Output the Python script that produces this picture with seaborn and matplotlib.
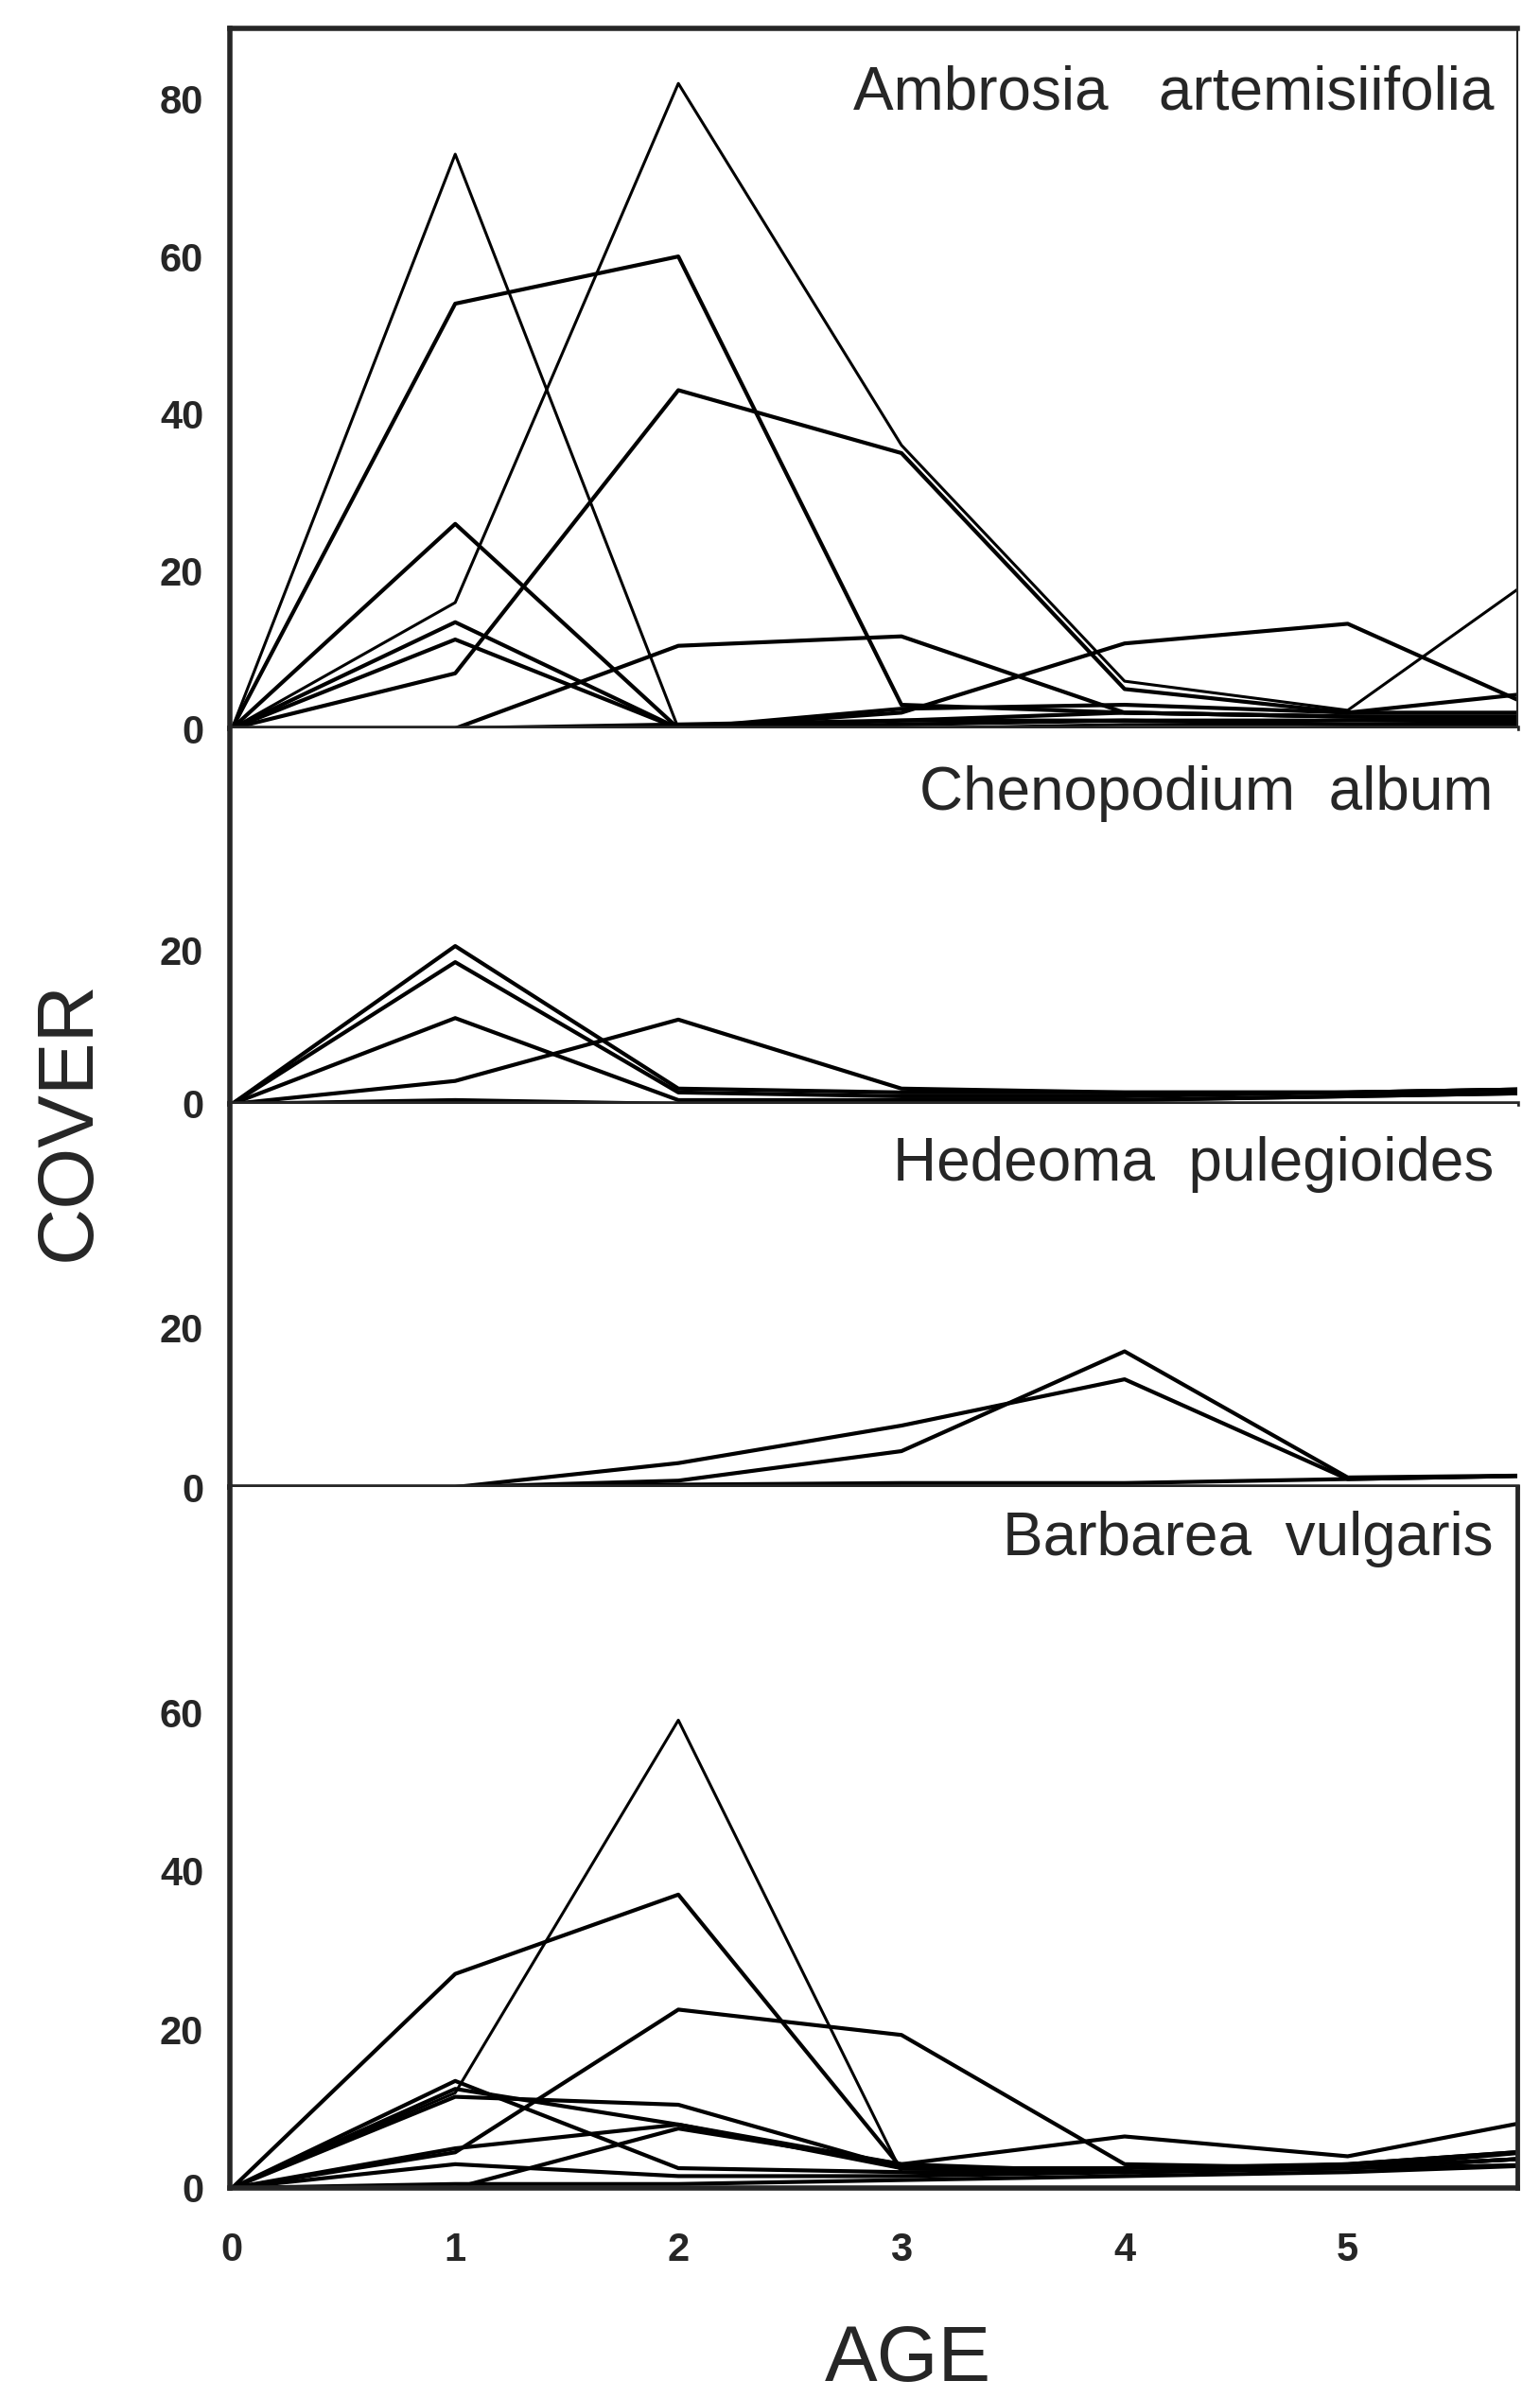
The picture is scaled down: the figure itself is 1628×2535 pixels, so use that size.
import matplotlib
matplotlib.use("Agg")
import matplotlib.pyplot as plt
import pandas as pd
import seaborn as sns

# cover of each species per site (x = age 0..6,
# the last column only sets the slope where the page cuts the lines off)
AGE = [0, 1, 2, 3, 4, 5, 6]

AMBROSIA = [
    [0, 73, 0, 0, 0.5, 0.5, 1],
    [0, 54, 60, 3, 2, 1.5, 1.5],
    [0, 16, 82, 36, 6, 2.3, 22.5],
    [0, 7, 43, 35, 5, 2, 2],
    [0, 26, 0, 0.5, 1, 1, 1],
    [0, 13.5, 0, 1, 2, 1.5, 1.5],
    [0, 11.3, 0, 2.5, 3, 2, 5],
    [0, 0, 10.5, 11.7, 2, 1.5, 1],
    [0, 0, 0, 2, 10.8, 13.3, 0.6],
    [0, 0, 0.5, 1, 1, 0.5, 0.5],
]
CHENOPODIUM = [
    [0, 20.6, 2, 1.5, 1.5, 1.5, 2],
    [0, 18.5, 1.5, 1, 1, 1.5, 2],
    [0, 11.2, 0.5, 0.5, 0.5, 1, 1.5],
    [0, 3, 11, 2, 1.5, 1.5, 2],
    [0, 0.5, 0, 0.5, 0.5, 1, 1.5],
]
HEDEOMA = [
    [0, 0, 3, 7.7, 13.5, 1, 1.5],
    [0, 0, 0.8, 4.5, 17, 1.2, 1.5],
    [0, 0, 0.3, 0.5, 0.5, 1, 1.5],
]
BARBAREA = [
    [0, 12, 59, 2, 2, 2.5, 4],
    [0, 27, 37, 2.5, 2, 2.5, 4],
    [0, 4.5, 22.5, 19.3, 3, 2.5, 4],
    [0, 13.5, 2.5, 2, 2, 2.5, 3],
    [0, 11.5, 10.5, 2.5, 2, 3, 5],
    [0, 5, 8, 3, 6.5, 4, 9.4],
    [0, 0, 7.5, 3, 2, 2.5, 5],
    [0, 3, 1.5, 1.5, 2, 2.5, 4],
    [0, 0.5, 0.5, 1, 1.5, 2, 3],
    [0, 12.5, 8, 2.5, 2.5, 3, 5],
]

SPECIES = ["Ambrosia   artemisiifolia", "Chenopodium  album",
           "Hedeoma  pulegioides", "Barbarea  vulgaris"]
SERIES = [AMBROSIA, CHENOPODIUM, HEDEOMA, BARBAREA]
Y_TOP = [89, 49, 48, 88.4]
Y_TICKS = [[0, 20, 40, 60, 80], [0, 20], [0, 20], [0, 20, 40, 60]]
X_TICKS = [0, 1, 2, 3, 4, 5]

# the tall peaks are drawn with a finer pen in the original
THIN = {(0, 0), (0, 2), (3, 0)}

rows = []
for p, (name, series) in enumerate(zip(SPECIES, SERIES)):
    for s, values in enumerate(series):
        pen = "thin" if (p, s) in THIN else "thick"
        for age, cover in zip(AGE, values):
            rows.append({"panel": name, "site": s, "age": age, "cover": cover, "pen": pen})
df = pd.DataFrame(rows)

sns.set_style("white")
plt.rcParams["font.family"] = ["Liberation Sans", "DejaVu Sans"]

# panel heights in pixels of the scan
fig, axes = plt.subplots(
    4, 1, figsize=(16.28, 25.35), dpi=100, sharex=True,
    gridspec_kw={"height_ratios": [740, 397, 405, 741], "hspace": 0},
)
fig.subplots_adjust(left=243 / 1628, right=1604 / 1628, top=1 - 30 / 2535, bottom=1 - 2313 / 2535)

title_drop = [38, 39, 34, 25]
for p, ax in enumerate(axes):
    sub = df[df["panel"] == SPECIES[p]]
    sns.lineplot(
        data=sub, x="age", y="cover", units="site", estimator=None,
        size="pen", sizes={"thin": 2.2, "thick": 3.0}, color="black",
        legend=False, ax=ax,
    )
    ax.set_xlim(-0.01, 5.76)
    ax.set_ylim(0, Y_TOP[p])
    ax.set_yticks(Y_TICKS[p])
    ax.set_xticks(X_TICKS)
    ax.set_xlabel("")
    ax.set_ylabel("")
    ax.tick_params(axis="y", direction="in", length=7, width=3, pad=20,
                   labelsize=30)
    ax.tick_params(axis="x", direction="in", length=7, width=2, pad=33,
                   labelsize=30, labelbottom=(p == 3))
    for lab in ax.get_yticklabels() + ax.get_xticklabels():
        lab.set_fontweight("bold")

    for side in ["left", "bottom"]:
        ax.spines[side].set_linewidth(4)
    ax.spines["top"].set_visible(p == 0)
    ax.spines["top"].set_linewidth(4)
    ax.spines["right"].set_visible(p in (0, 3))
    ax.spines["right"].set_linewidth(1.5 if p == 0 else 3.5)

    ax.annotate(SPECIES[p], xy=(1, 1), xycoords="axes fraction",
                xytext=(-25, -title_drop[p]), textcoords="offset pixels",
                ha="right", va="top", fontsize=46)

fig.text(73 / 1628, 1 - 1185 / 2535, "COVER", rotation=90, ha="center", va="center", fontsize=60)
fig.text(960 / 1628, 1 - 2495 / 2535, "AGE", ha="center", va="center", fontsize=60)

fig.savefig("out.png", dpi=100, facecolor="white")
plt.close(fig)
